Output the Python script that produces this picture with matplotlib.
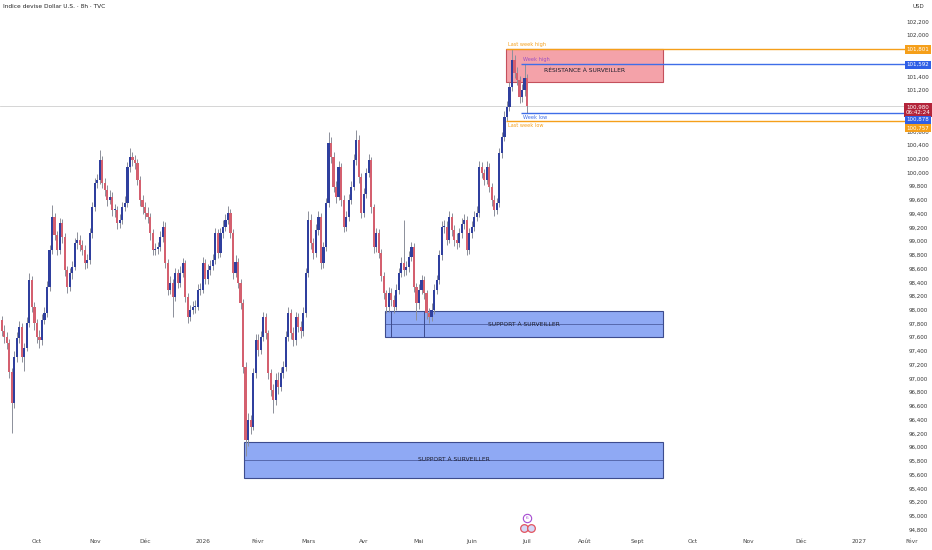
import numpy as np
import pandas as pd
import matplotlib
matplotlib.use("Agg")
import matplotlib.pyplot as plt
import matplotlib.transforms as mtrans
from matplotlib import font_manager
from matplotlib.patches import Rectangle

# --- données (bougies journalières, ouverture = clôture précédente)
last_day = "2026-07-01"
first_open = 98.00
closes = [
    97.95, 97.86, 97.70, 97.61, 97.52, 97.10, 96.65, 97.32, 97.60, 97.76,
    97.32, 97.45, 97.81, 98.44, 98.05, 97.81, 97.61, 97.57, 97.86, 97.96,
    98.34, 98.88, 99.36, 99.10, 98.88, 99.27, 99.07, 98.59, 98.34, 98.54,
    98.63, 98.98, 99.03, 98.95, 98.88, 98.69, 98.73, 99.12, 99.50, 99.85,
    99.90, 100.19, 99.85, 99.75, 99.61, 99.65, 99.46, 99.46, 99.27, 99.32,
    99.50, 99.56, 100.09, 100.23, 100.19, 100.15, 99.90, 99.61, 99.50, 99.42,
    99.36, 99.12, 98.88, 98.90, 98.92, 99.07, 99.22, 98.69, 98.30, 98.40,
    98.19, 98.54, 98.40, 98.55, 98.69, 98.19, 97.90, 98.00, 98.05, 98.05,
    98.30, 98.30, 98.69, 98.45, 98.59, 98.65, 98.73, 99.12, 98.84, 99.12,
    99.22, 99.32, 99.42, 99.12, 98.54, 98.70, 98.40, 98.11, 97.17, 96.11,
    96.40, 96.30, 97.09, 97.57, 97.42, 97.61, 97.90, 97.67, 97.09, 96.84,
    96.69, 96.99, 96.88, 97.09, 97.17, 97.61, 97.96, 97.67, 97.57, 97.90,
    97.76, 97.70, 97.96, 98.54, 99.32, 98.98, 98.84, 99.17, 99.36, 98.69,
    98.92, 99.56, 100.44, 100.23, 99.80, 99.65, 100.09, 99.61, 99.22, 99.36,
    99.61, 99.80, 100.19, 100.48, 99.94, 99.42, 99.70, 100.00, 100.19, 99.50,
    98.92, 99.12, 98.84, 98.50, 98.25, 98.05, 98.25, 98.15, 98.05, 98.30,
    98.54, 98.69, 98.59, 98.63, 98.78, 98.92, 98.34, 98.10, 98.30, 98.44,
    98.25, 97.96, 97.90, 98.00, 98.30, 98.44, 98.80, 99.22, 99.22, 99.03,
    99.36, 99.17, 99.03, 98.98, 99.12, 99.25, 99.32, 98.88, 99.12, 99.22,
    99.36, 99.42, 100.09, 100.00, 99.90, 100.09, 99.80, 99.61, 99.46, 99.56,
    100.29, 100.52, 100.82, 100.96, 101.25, 101.65, 101.46, 101.36, 101.11, 101.21,
    101.38, 100.98,
]
highs = [
    98.08, 98.02, 97.92, 97.78, 97.68, 97.58, 97.16, 97.40, 97.68, 97.85,
    97.82, 97.52, 97.90, 98.54, 98.50, 98.12, 97.88, 97.72, 97.95, 98.05,
    98.42, 98.95, 99.53, 99.42, 99.16, 99.35, 99.33, 99.12, 98.65, 98.62,
    98.72, 99.06, 99.14, 99.10, 99.02, 98.95, 98.82, 99.20, 99.58, 99.93,
    99.99, 100.34, 100.25, 99.92, 99.82, 99.75, 99.72, 99.55, 99.52, 99.40,
    99.58, 99.66, 100.16, 100.36, 100.30, 100.26, 100.20, 99.96, 99.68, 99.58,
    99.50, 99.42, 99.18, 98.98, 99.00, 99.15, 99.30, 99.28, 98.75, 98.50,
    98.46, 98.62, 98.60, 98.64, 98.76, 98.74, 98.25, 98.08, 98.14, 98.15,
    98.38, 98.40, 98.78, 98.75, 98.68, 98.74, 98.82, 99.20, 99.18, 99.20,
    99.32, 99.40, 99.52, 99.48, 99.18, 98.80, 98.76, 98.46, 98.16, 97.25,
    96.50, 96.48, 97.16, 97.65, 97.66, 97.70, 97.98, 97.96, 97.72, 97.15,
    96.92, 97.08, 97.10, 97.18, 97.26, 97.70, 98.05, 98.02, 97.75, 97.98,
    97.96, 97.84, 98.05, 98.62, 99.45, 99.40, 99.06, 99.26, 99.45, 99.42,
    99.00, 99.64, 100.60, 100.52, 100.30, 99.88, 100.18, 100.15, 99.68, 99.44,
    99.70, 99.88, 100.28, 100.63, 100.55, 100.00, 99.78, 100.08, 100.28, 100.24,
    99.55, 99.20, 99.18, 98.90, 98.56, 98.30, 98.34, 98.32, 98.22, 98.38,
    98.62, 98.78, 99.32, 98.72, 98.86, 99.00, 98.98, 98.40, 98.38, 98.52,
    98.50, 98.30, 98.04, 98.10, 98.38, 98.52, 98.88, 99.30, 99.32, 99.30,
    99.45, 99.42, 99.24, 99.12, 99.20, 99.34, 99.40, 99.38, 99.20, 99.30,
    99.44, 99.52, 100.18, 100.16, 100.06, 100.18, 100.14, 99.86, 99.68, 99.64,
    100.36, 100.60, 100.90, 101.05, 101.32, 101.80, 101.72, 101.55, 101.42, 101.30,
    101.59, 101.44,
]
lows = [
    97.88, 97.78, 97.62, 97.52, 97.44, 97.02, 96.21, 96.58, 97.25, 97.52,
    97.24, 97.12, 97.40, 97.75, 97.98, 97.72, 97.52, 97.45, 97.50, 97.80,
    97.90, 98.28, 98.82, 99.02, 98.80, 98.82, 98.98, 98.50, 98.25, 98.28,
    98.46, 98.58, 98.90, 98.86, 98.80, 98.60, 98.62, 98.68, 99.05, 99.44,
    99.78, 99.84, 99.78, 99.66, 99.52, 99.55, 99.38, 99.36, 99.18, 99.20,
    99.26, 99.44, 99.50, 100.02, 100.10, 100.06, 99.82, 99.52, 99.40, 99.33,
    99.27, 99.03, 98.80, 98.80, 98.82, 98.86, 99.00, 98.62, 98.22, 98.24,
    97.90, 98.14, 98.32, 98.34, 98.48, 98.12, 97.82, 97.84, 97.94, 97.96,
    98.00, 98.22, 98.25, 98.38, 98.38, 98.52, 98.58, 98.68, 98.76, 98.78,
    99.05, 99.16, 99.26, 99.05, 98.46, 98.48, 98.32, 98.02, 97.08, 95.88,
    96.02, 96.20, 96.25, 97.02, 97.34, 97.36, 97.55, 97.58, 97.00, 96.75,
    96.50, 96.62, 96.78, 96.82, 97.02, 97.12, 97.55, 97.58, 97.48, 97.50,
    97.68, 97.60, 97.62, 97.90, 98.48, 98.90, 98.75, 98.78, 99.10, 98.60,
    98.62, 98.86, 99.50, 100.15, 99.72, 99.56, 99.60, 99.52, 99.14, 99.15,
    99.30, 99.55, 99.75, 100.12, 99.86, 99.34, 99.36, 99.64, 99.94, 99.42,
    98.84, 98.85, 98.76, 98.42, 98.16, 97.96, 97.98, 98.06, 97.96, 98.00,
    98.24, 98.48, 98.50, 98.52, 98.56, 98.72, 98.26, 97.86, 98.02, 98.24,
    98.16, 97.88, 97.82, 97.84, 97.95, 98.24, 98.38, 98.74, 99.12, 98.95,
    98.98, 99.08, 98.94, 98.90, 98.92, 99.05, 99.18, 98.80, 98.82, 99.06,
    99.16, 99.30, 99.36, 99.92, 99.82, 99.84, 99.72, 99.52, 99.38, 99.40,
    99.50, 100.22, 100.46, 100.76, 100.90, 101.20, 101.38, 101.28, 101.02, 101.04,
    101.12, 100.88,
]

# niveaux dessinés
last_week_high = 101.801
week_high = 101.592
week_low = 100.878
last_week_low = 100.757
last_price = 100.980
countdown = "06:42:24"

# zones (date début, date fin, bas, haut, milieu, texte)
zones = [
    ("2026-06-19", "2026-09-15", 101.326, 101.801, None, "RÉSISTANCE À SURVEILLER", "res"),
    ("2026-04-14", "2026-09-15", 97.616, 97.990, 97.800, "SUPPORT À SURVEILLER", "sup"),
    ("2026-01-26", "2026-09-15", 95.550, 96.080, 95.820, "SUPPORT À SURVEILLER", "sup"),
]
zone1_marks = ["2026-04-16", "2026-05-05"]

month_starts = ["2025-10-01", "2025-11-01", "2025-12-01", "2026-01-01", "2026-02-01",
                "2026-03-01", "2026-04-01", "2026-05-01", "2026-06-01", "2026-07-01",
                "2026-08-01", "2026-09-01", "2026-10-01", "2026-11-01", "2026-12-01",
                "2027-01-01", "2027-02-01"]
month_labels = ["Oct", "Nov", "Déc", "2026", "Févr", "Mars", "Avr", "Mai", "Juin",
                "Juil", "Août", "Sept", "Oct", "Nov", "Déc", "2027", "Févr"]

title = "Indice devise Dollar U.S. · 8h · TVC"

# --- police
names = {f.name for f in font_manager.fontManager.ttflist}
fam = "Liberation Sans Narrow" if "Liberation Sans Narrow" in names else "DejaVu Sans"
plt.rcParams["font.family"] = [fam, "DejaVu Sans"]

UP = "#2f3f9e"
DOWN = "#d4606f"
WICK = "#8c8f9a"
ORANGE = "#f59f1a"
BLUE = "#3f6ee8"

n = len(closes)
bars = pd.bdate_range(end=last_day, periods=n)
cal = pd.bdate_range(start=bars[0], end="2027-03-31")


def xpos(d):
    return cal.searchsorted(pd.Timestamp(d))


x = np.arange(n)
c = np.array(closes)
o = np.concatenate([[first_open], c[:-1]])
h = np.array(highs)
lo = np.array(lows)
up = c >= o

fig = plt.figure(figsize=(9.32, 5.5), dpi=100)
ax = fig.add_axes([0, 15 / 550, 1, 535 / 550])
ax.set_xlim(1.3, 372.1)
ax.set_ylim(94.727, 102.52)
for s in ax.spines.values():
    s.set_visible(False)
ax.set_yticks([])

line_end = 361.4

# zones
for d0, d1, bot, top, mid, txt, kind in zones:
    x0, x1 = xpos(d0) - 0.5, xpos(d1)
    if kind == "res":
        fc, ec = "#f4a2a9", "#c4505c"
    else:
        fc, ec = "#8fa9f4", "#3d4c8e"
    ax.add_patch(Rectangle((x0, bot), x1 - x0, top - bot, fc=fc, ec=ec, lw=0.8, zorder=1))
    if mid is not None:
        ax.hlines(mid, x0, x1, color=ec, lw=0.6, alpha=0.8, zorder=1.5)
    ty = mid if mid is not None else (bot + top) / 2 - 0.07
    ax.text((x0 + x1) / 2, ty, txt, ha="center", va="center", fontsize=4.3,
            color="#1c1c2a", zorder=5)
zb, zt = zones[1][2], zones[1][3]
for d in zone1_marks:
    ax.vlines(xpos(d), zb, zt, color="#3d4c8e", lw=0.7, zorder=1.5)

# ligne du dernier prix
ax.axhline(last_price, color="#cfcfcf", lw=0.6, zorder=0.5)

# bougies
ax.vlines(x, lo, h, color=WICK, lw=0.7, zorder=2)
body_lo = np.minimum(o, c)
body_h = np.maximum(np.abs(c - o), 0.015)
ax.bar(x[up], body_h[up], bottom=body_lo[up], width=0.85, color=UP, lw=0, zorder=3)
ax.bar(x[~up], body_h[~up], bottom=body_lo[~up], width=0.85, color=DOWN, lw=0, zorder=3)

# niveaux horizontaux
xs_lw = xpos("2026-06-19") - 0.5
xs_w = xpos("2026-06-29") - 0.5
ax.hlines(last_week_high, xs_lw, line_end, color=ORANGE, lw=1.0, zorder=4)
ax.hlines(week_high, xs_w, line_end, color=BLUE, lw=1.0, zorder=4)
ax.hlines(week_low, xs_w, line_end, color=BLUE, lw=1.0, zorder=4)
ax.hlines(last_week_low, xs_lw, line_end, color=ORANGE, lw=1.0, zorder=4)
ax.text(xs_lw + 0.8, last_week_high + 0.035, "Last week high", fontsize=3.6, color=ORANGE,
        va="bottom", ha="left", zorder=5)
ax.text(xs_w + 0.8, week_high + 0.03, "Week high", fontsize=3.6, color="#9a4fc4",
        va="bottom", ha="left", zorder=5)
ax.text(xs_w + 0.8, week_low - 0.035, "Week low", fontsize=3.6, color=BLUE,
        va="top", ha="left", zorder=5)
ax.text(xs_lw + 0.8, last_week_low - 0.035, "Last week low", fontsize=3.6, color=ORANGE,
        va="top", ha="left", zorder=5)

# échelle de prix à droite
tr = mtrans.blended_transform_factory(ax.transAxes, ax.transData)
lab_x = 918 / 932
skip = [101.8, 101.6, 101.0, 100.8]
for v in np.arange(94.8, 102.21, 0.2):
    v = round(v, 1)
    if any(abs(v - s) < 1e-6 for s in skip):
        continue
    ax.text(lab_x, v, f"{v:.3f}".replace(".", ","), transform=tr, ha="center",
            va="center", fontsize=4.0, color="#333333", zorder=6)
ax.text(lab_x, 1 - 6 / 535, "USD", transform=ax.transAxes, ha="center", va="center",
        fontsize=4.0, color="#333333")


def price_box(val, color, dy_px, txt=None):
    t = mtrans.offset_copy(tr, fig=fig, x=0, y=-dy_px * 0.72, units="points")
    label = txt if txt else f"{val:.3f}".replace(".", ",")
    ax.text(lab_x, val, label, transform=t, ha="center", va="center", fontsize=4.0,
            color="white", linespacing=1.15, zorder=8,
            bbox=dict(boxstyle="square,pad=0.3", fc=color, ec="none"))


price_box(last_week_high, ORANGE, 0)
price_box(week_high, "#2f5fe6", 1)
price_box(last_price, "#b3243a", 4, f"{last_price:.3f}".replace(".", ",") + "\n" + countdown)
price_box(week_low, "#2f5fe6", 7)
price_box(last_week_low, ORANGE, 7)

# titre
ax.text(3 / 932, 1 - 6 / 535, title, transform=ax.transAxes, ha="left", va="center",
        fontsize=4.2, color="#222222")

# axe du temps
ax.set_xticks([xpos(d) for d in month_starts])
ax.set_xticklabels(month_labels, fontsize=4.2, color="#444444")
ax.tick_params(axis="x", length=0, pad=3)

# icônes d'événements sous les bougies
te = mtrans.blended_transform_factory(ax.transData, ax.transAxes)
xe = xpos(last_day)
ax.plot([xe], [17 / 535], marker="o", ms=6, mfc="white", mec="#a64bd1", mew=0.8,
        transform=te, clip_on=False, zorder=7)
ax.text(xe, 17 / 535, "6", transform=te, ha="center", va="center", fontsize=3.2,
        color="#a64bd1", zorder=8)
for dx in (-1.4, 1.4):
    ax.plot([xe + dx], [7 / 535], marker="o", ms=5.5, mfc="#d5d9f7", mec="#e2535f",
            mew=0.9, transform=te, clip_on=False, zorder=7)

fig.savefig("out.png", dpi=100, facecolor="white")
